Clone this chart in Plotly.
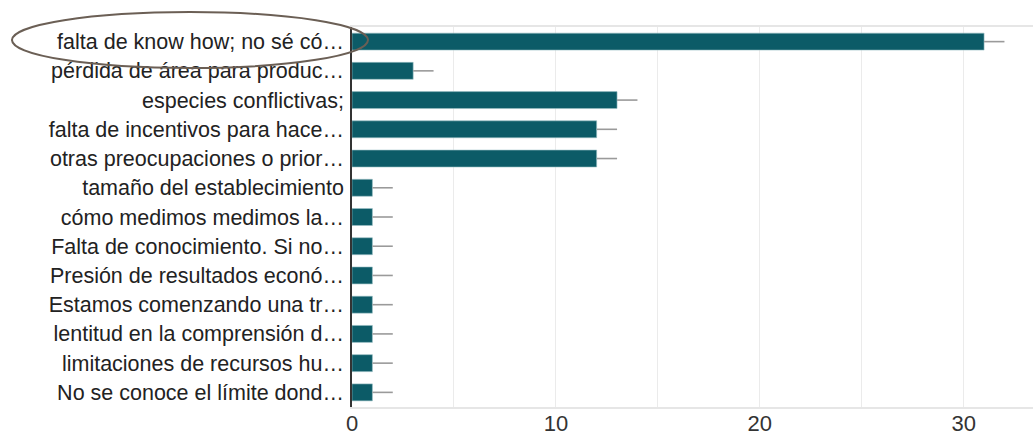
import plotly.graph_objects as go

categories = [
    "falta de know how; no sé có…",
    "pérdida de área para produc…",
    "especies conflictivas;",
    "falta de incentivos para hace…",
    "otras preocupaciones o prior…",
    "tamaño del establecimiento",
    "cómo medimos medimos la…",
    "Falta de conocimiento. Si no…",
    "Presión de resultados econó…",
    "Estamos comenzando una tr…",
    "lentitud en la comprensión d…",
    "limitaciones de recursos hu…",
    "No se conoce el límite dond…",
]
values = [31, 3, 13, 12, 12, 1, 1, 1, 1, 1, 1, 1, 1]
extension = [1] * len(values)

fig = go.Figure(go.Bar(
    x=values,
    y=categories,
    orientation="h",
    marker=dict(color="#0c5b67", line=dict(color="#9bbfc4", width=0.6)),
    width=0.58,
    error_x=dict(type="data", symmetric=False, array=extension,
                 arrayminus=[0] * len(values), color="#9a9a9a",
                 thickness=1.6, width=0),
))

fig.update_layout(
    width=1033, height=443,
    margin=dict(l=352, r=0, t=27, b=36),
    plot_bgcolor="white", paper_bgcolor="white",
    font=dict(family="Liberation Sans, Arial, sans-serif", size=22, color="#222"),
    showlegend=False,
    xaxis=dict(
        range=[0, 33.4], dtick=10, tick0=0,
        showgrid=True, gridcolor="#ebebeb", gridwidth=1.2,
        minor=dict(dtick=5, showgrid=True, gridcolor="#ebebeb", gridwidth=1.2),
        showline=True, linecolor="#e6e6e6", linewidth=1.5, mirror=True,
        zeroline=False, ticks="",
        tickfont=dict(size=22, color="#333"),
        ticklabelstandoff=-4,
    ),
    yaxis=dict(
        categoryorder="array", categoryarray=categories,
        autorange="reversed",
        showline=True, linecolor="#333", linewidth=1.5,
        showgrid=False, ticks="", ticklabelstandoff=2,
        tickfont=dict(size=21.5, color="#222"),
    ),
    shapes=[dict(
        type="circle", xref="paper", yref="paper",
        x0=-0.4993, x1=0.0235, y0=0.892, y1=1.0395,
        line=dict(color="#6b5f55", width=2),
    )],
)

fig.write_html("out.html",
               config={"displayModeBar": False},
               post_script="document.body.style.margin='0';document.body.style.overflow='hidden';")
